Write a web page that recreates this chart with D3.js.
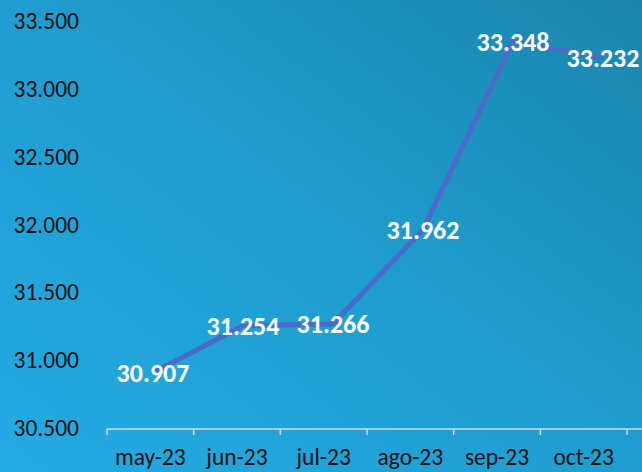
<!DOCTYPE html>
<html>
<head>
<meta charset="utf-8">
<script src="https://cdn.jsdelivr.net/npm/d3@7"></script>
<style>
  html, body { margin: 0; padding: 0; }
  body { width: 642px; height: 472px; overflow: hidden; }
  svg text { font-family: Carlito, Calibri, Lato, sans-serif; }
</style>
</head>
<body>
<svg id="chart" width="642" height="472"></svg>
<script>
var months = ["may-23", "jun-23", "jul-23", "ago-23", "sep-23", "oct-23"];
var values = [30907, 31254, 31266, 31962, 33348, 33232];
var yTicks = [30500, 31000, 31500, 32000, 32500, 33000, 33500];

var svg = d3.select("#chart"),
    width = +svg.attr("width"),
    height = +svg.attr("height");

var es = d3.formatLocale({decimal: ",", thousands: ".", grouping: [3], currency: ["", " €"]});
var fmt = es.format(",.0f");

// background gradient, lighter bottom-left to darker top-right
var grad = svg.append("defs").append("linearGradient")
    .attr("id", "bg")
    .attr("x1", "0%").attr("y1", "100%")
    .attr("x2", "100%").attr("y2", "0%");
grad.append("stop").attr("offset", "0%").attr("stop-color", "#23abe3");
grad.append("stop").attr("offset", "50%").attr("stop-color", "#1f9dcf");
grad.append("stop").attr("offset", "100%").attr("stop-color", "#1a85ae");

svg.append("rect")
    .attr("width", width)
    .attr("height", height)
    .attr("fill", "url(#bg)");

var x = d3.scaleBand().domain(months).range([107, 627]);
// the line in the original sits on a slightly wider grid than the axis
var xLine = d3.scalePoint().domain(months).range([153, 603]);
var y = d3.scaleLinear().domain([30500, 33500]).range([428, 21]);

// y axis labels, no line
var yAxis = svg.append("g")
    .attr("transform", "translate(79,0)")
    .call(d3.axisLeft(y).tickValues(yTicks).tickFormat(fmt).tickSize(0).tickPadding(0));
yAxis.select(".domain").remove();
yAxis.selectAll("text")
    .attr("fill", "#111")
    .style("font-size", "23.5px");

// x axis: labels at band centers, ticks between categories
var xAxis = svg.append("g")
    .attr("transform", "translate(0,429)")
    .call(d3.axisBottom(x).tickSize(0).tickPadding(19));
xAxis.select(".domain").remove();
xAxis.selectAll("text")
    .attr("fill", "#111")
    .style("font-size", "23.5px");

var axisColor = "#d9d9d9";
xAxis.append("line")
    .attr("x1", 107).attr("x2", width)
    .attr("y1", 0).attr("y2", 0)
    .attr("stroke", axisColor)
    .attr("stroke-width", 1.5);

var bounds = months.map(function(d) { return x(d); }).concat([x.range()[1]]);
xAxis.selectAll(".bound")
    .data(bounds)
  .enter().append("line")
    .attr("class", "bound")
    .attr("x1", function(d) { return d; })
    .attr("x2", function(d) { return d; })
    .attr("y1", 0).attr("y2", 6)
    .attr("stroke", axisColor)
    .attr("stroke-width", 1.5);

var line = d3.line()
    .x(function(d, i) { return xLine(months[i]); })
    .y(function(d) { return y(d); });

svg.append("path")
    .datum(values)
    .attr("fill", "none")
    .attr("stroke", "#4a6bc9")
    .attr("stroke-width", 5)
    .attr("stroke-linejoin", "round")
    .attr("d", line);

svg.selectAll(".lbl")
    .data(values)
  .enter().append("text")
    .attr("class", "lbl")
    .attr("x", function(d, i) { return xLine(months[i]); })
    .attr("y", function(d) { return y(d); })
    .attr("dy", "0.36em")
    .attr("text-anchor", "middle")
    .attr("fill", "#fff")
    .style("font-size", "26px")
    .style("font-weight", "bold")
    .text(function(d) { return fmt(d); });
</script>
</body>
</html>
